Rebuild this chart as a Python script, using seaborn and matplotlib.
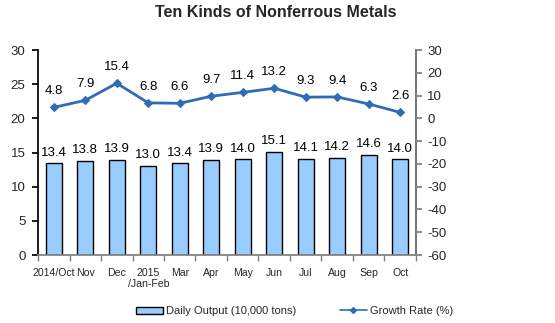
import numpy as np
import pandas as pd
import matplotlib
matplotlib.use("Agg")
import matplotlib.pyplot as plt
import seaborn as sns
from matplotlib.patches import Patch
from matplotlib.lines import Line2D

categories = ["2014/Oct", "Nov", "Dec", "2015\n/Jan-Feb", "Mar", "Apr", "May", "Jun", "Jul", "Aug", "Sep", "Oct"]
daily_output = [13.4, 13.8, 13.9, 13.0, 13.4, 13.9, 14.0, 15.1, 14.1, 14.2, 14.6, 14.0]
growth_rate = [4.8, 7.9, 15.4, 6.8, 6.6, 9.7, 11.4, 13.2, 9.3, 9.4, 6.3, 2.6]
left_ticks = [0, 5, 10, 15, 20, 25, 30]
right_ticks = [-60, -50, -40, -30, -20, -10, 0, 10, 20, 30]

sns.set_theme(style="ticks")
plt.rcParams['font.family'] = ['Liberation Sans', 'DejaVu Sans']
plt.rcParams['axes.unicode_minus'] = False

df = pd.DataFrame({"cat": categories, "out": daily_output, "gr": growth_rate,
                   "pos": np.arange(len(categories))})

fig = plt.figure(figsize=(5.55, 3.23), dpi=100)
ax = fig.add_axes([0.0685, 0.2105, 0.681, 0.6347])
bar_col = "#99CCFF"
line_col = "#2E6DB5"
sns.barplot(data=df, x="cat", y="out", ax=ax, color=bar_col, edgecolor="black",
            linewidth=1.0, width=0.5, saturation=1)
ax.set_ylim(0, 30)
ax.set_xlim(-0.5, len(categories) - 0.5)
ax.set_yticks(left_ticks)
ax.set_xlabel("")
ax.set_ylabel("")
for i, v in enumerate(daily_output):
    ax.text(i, v + 0.7, f"{v:.1f}", ha="center", va="bottom", fontsize=9.5, color="black")

ax2 = ax.twinx()
sns.lineplot(data=df, x="pos", y="gr", ax=ax2, color=line_col, marker="D", markersize=4.5,
             markeredgecolor=line_col, linewidth=2)
ax2.set_ylim(-60, 30)
ax2.set_yticks(right_ticks)
ax2.set_xlabel("")
ax2.set_ylabel("")
for i, v in enumerate(growth_rate):
    ax2.text(i, v + 4.5, f"{v:.1f}", ha="center", va="bottom", fontsize=9.5, color="black")
ax2.set_xlim(-0.5, len(categories) - 0.5)

# x ticks: labels at centers, tick marks at boundaries
ax.set_xticks(np.arange(len(categories)))
ax.set_xticklabels(categories, fontsize=7.6, linespacing=1.15)
ax.tick_params(axis="x", length=0, pad=9)
ax.set_xticks(np.arange(len(categories) + 1) - 0.5, minor=True)
ax.tick_params(axis="x", which="minor", length=4, color="#808080", direction="out")
ax.tick_params(axis="y", labelsize=9.5, length=4, color="black", pad=5)
ax2.tick_params(axis="y", labelsize=9.5, length=4, color="#808080", pad=4)

for a in (ax, ax2):
    a.spines["top"].set_visible(False)
ax.spines["left"].set_color("black")
ax.spines["bottom"].set_color("#808080")
ax2.spines["right"].set_color("#808080")
ax2.spines["left"].set_visible(False)
ax2.spines["bottom"].set_visible(False)

fig.text(0.497, 0.962, "Ten Kinds of Nonferrous Metals", ha="center", va="center",
         fontsize=11.5, fontweight="bold")

h_bar = Patch(facecolor=bar_col, edgecolor="black", linewidth=1.0)
h_line = Line2D([0], [0], color=line_col, marker="D", markersize=3, linewidth=1.2)
leg1 = fig.legend([h_bar], ["Daily Output (10,000 tons)"], loc="center left",
                  bbox_to_anchor=(136 / 555, 0.037), frameon=False, fontsize=8,
                  borderpad=0, borderaxespad=0, handlelength=2.4, handleheight=0.6,
                  handletextpad=0.3)
leg2 = fig.legend([h_line], ["Growth Rate (%)"], loc="center left",
                  bbox_to_anchor=(340 / 555, 0.037), frameon=False, fontsize=8,
                  borderpad=0, borderaxespad=0, handlelength=2.4, handletextpad=0.3)

fig.savefig("out.png", dpi=100)
